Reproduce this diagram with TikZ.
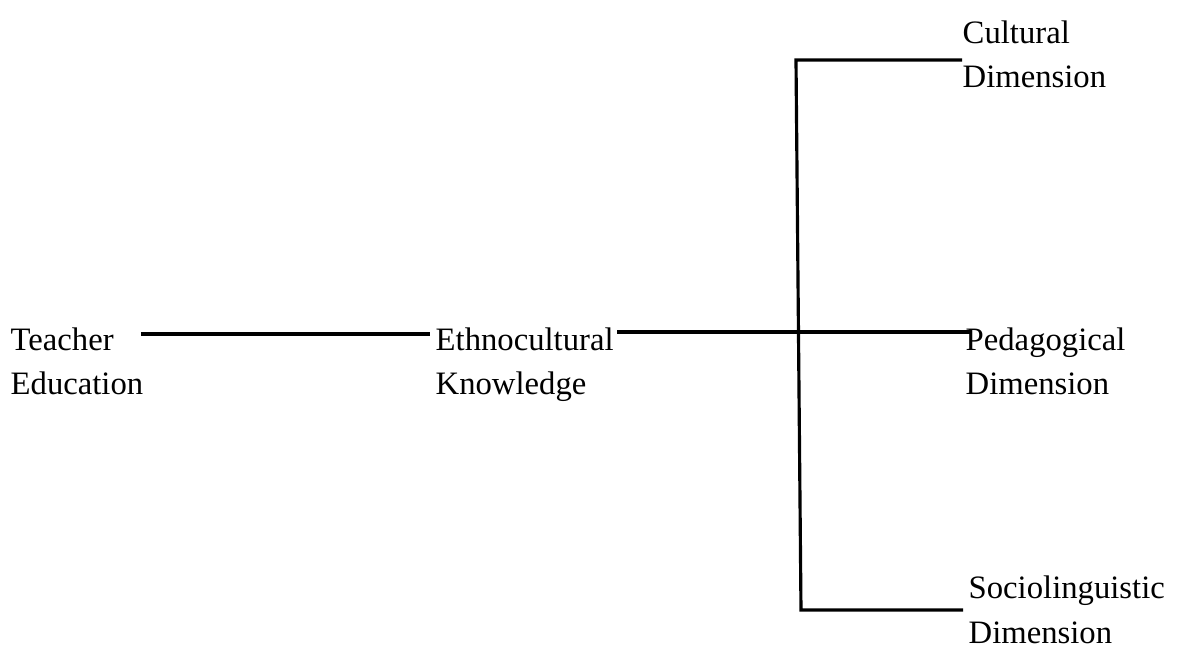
\documentclass[tikz,border=0pt]{standalone}
\usepackage{fontspec}
\setmainfont{Liberation Serif}
\usepackage{tikz}

\tikzset{
  label/.style = {anchor = base west, inner sep = 0, align = left,
    font = \fontsize{9.3}{12.8}\selectfont},
  link/.style = {line width = 0.9pt}
}

\begin{document}
\begin{tikzpicture}
\useasboundingbox (0, 0) rectangle (11.80, 6.55);
\node[label] (teacher) at (0.10, 2.60) {Teacher\\Education};
\node[label] (ethno) at (4.35, 2.60) {Ethnocultural\\Knowledge};
\node[label] (cultural) at (9.62, 5.67) {Cultural\\Dimension};
\node[label] (pedagogical) at (9.65, 2.60) {Pedagogical\\Dimension};
\node[label] (socio) at (9.68, 0.12) {Sociolinguistic\\Dimension};
% bracket
\coordinate (top) at (7.96, 5.95);
\coordinate (bottom) at (8.01, 0.45);
\draw[link] ([shift={(-0.03, 0.61)}]teacher.base east) -- ([shift={(-0.05, 0.61)}]ethno.base west);
\draw[link] ([shift={(0.03, 0.63)}]ethno.base east) -- ([shift={(0.07, 0.63)}]pedagogical.base west);
\draw[link] (cultural.base west |- top) -- (top) -- (bottom)
 -- ([xshift = -0.05cm]socio.base west |- bottom);
\end{tikzpicture}
\end{document}
